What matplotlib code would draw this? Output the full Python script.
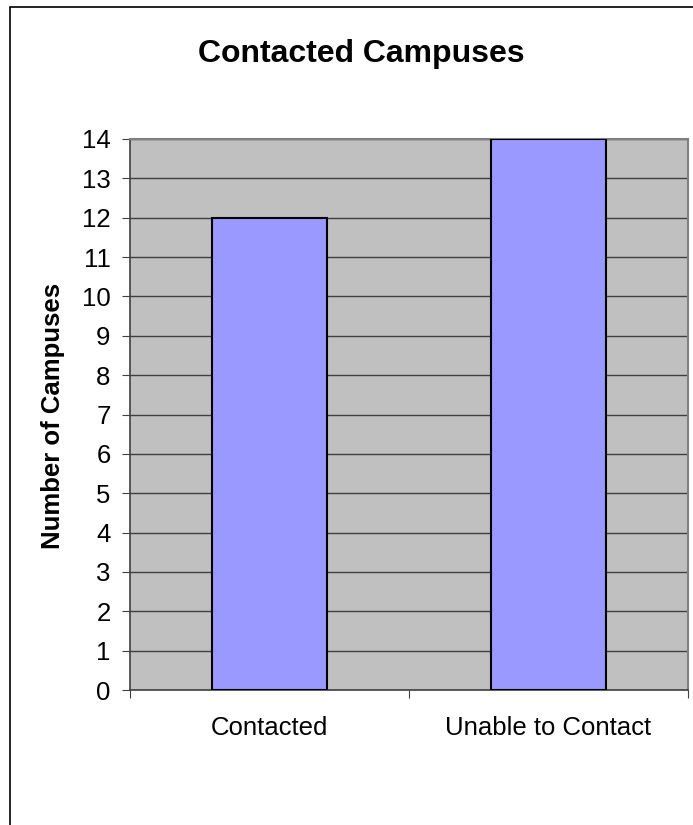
import matplotlib.pyplot as plt
from matplotlib.patches import Rectangle

# -----------------------------
# DATA
# -----------------------------
categories = ["Contacted", "Unable to Contact"]
campus_counts = [12, 14]
y_ticks = list(range(0, 15))

plt.rcParams["font.family"] = ["Liberation Sans", "DejaVu Sans"]

fig = plt.figure(figsize=(6.93, 8.25), dpi=100)
ax = fig.add_axes([130 / 693, 1 - 690 / 825, 558 / 693, 551 / 825])

# chart frame around the whole figure (runs past right/bottom edge)
fig.patches.append(Rectangle((10 / 693, -0.05), 1.0, 1 - 7 / 825 + 0.05,
                             transform=fig.transFigure, fill=False,
                             edgecolor="black", linewidth=1.2))

ax.set_facecolor("#C0C0C0")
x = range(len(categories))
ax.bar(x, campus_counts, width=0.41, color="#9999FF", edgecolor="black",
       linewidth=1.5, zorder=3)

ax.set_xlim(-0.5, 1.5)
ax.set_ylim(0, 14)
ax.set_yticks(y_ticks)
ax.yaxis.grid(True, color="#404040", linewidth=1.0, zorder=1)
ax.set_axisbelow(True)

# category ticks sit between the bars, labels centred under them
ax.set_xticks([-0.5, 0.5, 1.5])
ax.set_xticklabels([])
ax.set_xticks(list(x), minor=True)
ax.set_xticklabels(categories, minor=True, fontsize=18.5)
ax.tick_params(axis="x", which="minor", length=0, pad=19)
ax.tick_params(axis="x", which="major", length=6, color="#404040")
ax.tick_params(axis="y", length=6, labelsize=18.5, pad=8, color="#404040")

for side in ["top", "right"]:
    ax.spines[side].set_color("#808080")
    ax.spines[side].set_linewidth(1.5)
for side in ["left", "bottom"]:
    ax.spines[side].set_color("#404040")
    ax.spines[side].set_linewidth(1.2)

fig.text(53 / 693, 1 - 416 / 825, "Number of Campuses", rotation=90,
         ha="center", va="center", fontsize=18.5, fontweight="bold")
fig.text(361 / 693, 1 - 54 / 825, "Contacted Campuses", ha="center", va="center",
         fontsize=23, fontweight="bold")

plt.savefig("out.png", dpi=100)
plt.close()
